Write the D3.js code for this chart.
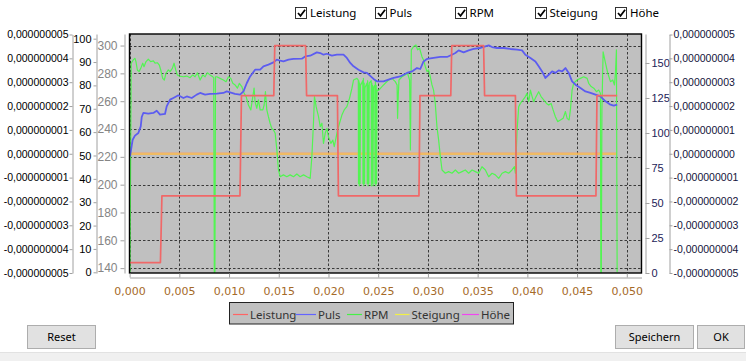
<!DOCTYPE html>
<html><head><meta charset="utf-8">
<script src="https://cdn.jsdelivr.net/npm/d3@7"></script>
<style>
html,body{margin:0;padding:0;background:#fff;overflow:hidden;}
svg{display:block;}
</style></head><body>
<svg id="c" width="746" height="361"></svg>
<script>
// ---------- data ----------
const seriesNames = ["Leistung", "Puls", "RPM", "Steigung", "Höhe"];
const xTicks = [0, 0.005, 0.01, 0.015, 0.02, 0.025, 0.03, 0.035, 0.04, 0.045, 0.05];
const leistungTicks = [140, 160, 180, 200, 220, 240, 260, 280, 300];
const rpmTicks = [0, 10, 20, 30, 40, 50, 60, 70, 80, 90, 100];
const pulsTicks = [0, 25, 50, 75, 100, 125, 150];
const smallTicks = [-5e-9, -4e-9, -3e-9, -2e-9, -1e-9, 0, 1e-9, 2e-9, 3e-9, 4e-9, 5e-9];

const leistungData = [
  [0, 144], [3.1e-3, 144], [3.25e-3, 192], [11.1e-3, 192], [11.25e-3, 264],
  [14.5e-3, 264], [14.6e-3, 300], [17.7e-3, 300], [17.8e-3, 264], [20.9e-3, 264],
  [21.0e-3, 192], [29.1e-3, 192], [29.2e-3, 264], [32.3e-3, 264], [32.4e-3, 300],
  [35.6e-3, 300], [35.7e-3, 264], [38.8e-3, 264], [38.9e-3, 192], [46.9e-3, 192],
  [47.0e-3, 264], [49.03e-3, 264]
];

const pulsData = [
  [0.04e-3, 83.3], [0.31e-3, 95.2], [0.54e-3, 98.1], [0.88e-3, 100], [1.12e-3, 104.7],
  [1.22e-3, 111.4], [1.38e-3, 114.3], [1.88e-3, 113.8], [2.39e-3, 114.3], [2.73e-3, 115.9],
  [3.06e-3, 113.1], [3.56e-3, 113.6], [3.73e-3, 119], [4.07e-3, 123.8], [4.40e-3, 125],
  [4.90e-3, 126.9], [5.41e-3, 125], [5.75e-3, 126.1], [6.25e-3, 125], [6.75e-3, 127.4],
  [7.09e-3, 128.6], [7.59e-3, 127.4], [8.09e-3, 127.9], [8.77e-3, 128.1], [9.43e-3, 128.6],
  [9.77e-3, 129.7], [10.1e-3, 129], [10.6e-3, 127.9], [11.11e-3, 127.4], [11.45e-3, 129.7],
  [11.79e-3, 135.7], [12.12e-3, 140.4], [12.62e-3, 145.2], [13.13e-3, 145.2], [13.46e-3, 147.6],
  [13.96e-3, 148.8], [14.47e-3, 150.4], [14.81e-3, 152.4], [15.14e-3, 151.6], [15.47e-3, 151.1],
  [15.98e-3, 152.4], [16.48e-3, 152.9], [17.32e-3, 153.1], [17.66e-3, 154.7], [18.16e-3, 155.2],
  [18.83e-3, 157.6], [19.17e-3, 157.1], [19.5e-3, 155.9], [19.84e-3, 156.6], [20.34e-3, 155.2],
  [20.85e-3, 155.9], [21.51e-3, 155.9], [21.85e-3, 153.6], [22.19e-3, 150], [22.52e-3, 147.6],
  [23.02e-3, 145.2], [23.53e-3, 143.3], [23.87e-3, 142.9], [24.53e-3, 138.6], [24.87e-3, 136.9],
  [25.54e-3, 136.9], [26.04e-3, 138.1], [26.55e-3, 139.3], [27.22e-3, 140.4], [27.89e-3, 142.9],
  [28.4e-3, 144], [28.9e-3, 146.4], [29.23e-3, 145.7], [29.56e-3, 151.1], [29.91e-3, 152.9],
  [30.57e-3, 153.6], [31.25e-3, 154.3], [31.92e-3, 154.3], [32.42e-3, 155.9], [32.76e-3, 157.1],
  [33.09e-3, 159], [33.59e-3, 157.6], [34.1e-3, 159], [34.6e-3, 160], [35.27e-3, 160.7],
  [35.78e-3, 161.9], [36.11e-3, 162.6], [36.45e-3, 161.4], [36.95e-3, 160.7], [37.62e-3, 160.7],
  [38.29e-3, 160], [38.97e-3, 159.5], [39.47e-3, 159], [39.8e-3, 155.9], [40.31e-3, 153.6],
  [40.81e-3, 151.1], [41.14e-3, 147.6], [41.48e-3, 144], [41.82e-3, 139.3], [42.15e-3, 141.6],
  [42.49e-3, 144], [42.82e-3, 142.9], [43.15e-3, 144.7], [43.5e-3, 144], [43.83e-3, 146.4],
  [44.16e-3, 142.9], [44.5e-3, 136.9], [44.84e-3, 134.5], [45.34e-3, 132.1], [45.84e-3, 129.7],
  [46.35e-3, 128.6], [46.85e-3, 127.4], [47.35e-3, 126.1], [47.86e-3, 122.6], [48.36e-3, 120.2],
  [48.69e-3, 119.5], [49.03e-3, 120.2]
];

const rpmData = [
  [0.04e-3, 0], [0.16e-3, 89.5], [0.37e-3, 90.9], [0.54e-3, 91.6], [0.64e-3, 90.2], [0.78e-3, 86.6],
  [0.95e-3, 85.9], [1.12e-3, 87.3], [1.32e-3, 89.5], [1.45e-3, 88], [1.65e-3, 90.2], [1.88e-3, 91.2],
  [2.12e-3, 90.2], [2.39e-3, 90.5], [2.56e-3, 89.5], [2.79e-3, 89.7], [2.99e-3, 88.7], [3.13e-3, 86.6],
  [3.33e-3, 83], [3.49e-3, 82.3], [3.66e-3, 85.2], [3.9e-3, 86.6], [4.07e-3, 85.9], [4.3e-3, 87.3],
  [4.47e-3, 89.5], [4.64e-3, 86.6], [4.8e-3, 84.5], [5.0e-3, 84], [5.41e-3, 83.7], [5.75e-3, 84],
  [6.08e-3, 83.3], [6.35e-3, 84.5], [6.58e-3, 83.7], [6.82e-3, 85.4], [7.09e-3, 82.3], [7.36e-3, 84.5],
  [7.59e-3, 83.7], [7.82e-3, 85.4], [8.09e-3, 84.5], [8.37e-3, 83.7], [8.46e-3, 83.2], [8.52e-3, 0],
  [8.58e-3, 0], [8.64e-3, 83.7], [8.77e-3, 83.7], [9.1e-3, 83], [9.43e-3, 82.3], [9.7e-3, 81.6],
  [9.94e-3, 83.7], [10.18e-3, 83], [10.38e-3, 80.9], [10.61e-3, 80.2], [10.84e-3, 78.8], [11.04e-3, 80.9],
  [11.28e-3, 79.5], [11.52e-3, 76.6], [11.72e-3, 75.2], [11.95e-3, 71.6], [12.19e-3, 69.5], [12.39e-3, 75.2],
  [12.52e-3, 78.8], [12.62e-3, 73], [12.79e-3, 70.2], [12.96e-3, 73.8], [13.13e-3, 69.5], [13.4e-3, 69.5],
  [13.53e-3, 71.6], [13.66e-3, 77.3], [13.8e-3, 69.5], [13.96e-3, 66.6], [14.13e-3, 63.8], [14.3e-3, 61.6],
  [14.47e-3, 60.9], [14.64e-3, 59.5], [14.81e-3, 52.4], [14.97e-3, 43.8], [15.14e-3, 40.9], [15.47e-3, 41.7],
  [15.81e-3, 40.9], [16.15e-3, 41.7], [16.48e-3, 40.9], [16.82e-3, 42.1], [17.15e-3, 40.9], [17.49e-3, 41.7],
  [17.83e-3, 40.9], [18.16e-3, 40.2], [18.33e-3, 49.5], [18.49e-3, 63.8], [18.59e-3, 75.2], [18.76e-3, 70.9],
  [19.0e-3, 66.6], [19.17e-3, 62.3], [19.34e-3, 63.8], [19.5e-3, 55.2], [19.67e-3, 59.5], [19.84e-3, 61.6],
  [20.0e-3, 58], [20.24e-3, 55.2], [20.44e-3, 56.6], [20.58e-3, 53.8], [20.78e-3, 58], [20.91e-3, 60.9],
  [21.11e-3, 63.8], [21.35e-3, 67.3], [21.58e-3, 69.5], [21.85e-3, 70.9], [22.12e-3, 74.5], [22.36e-3, 78.8],
  [22.52e-3, 82.3], [22.86e-3, 83], [23.0e-3, 82.3],
  [23.02e-3, 38], [23.06e-3, 82], [23.1e-3, 37], [23.14e-3, 81], [23.18e-3, 38], [23.22e-3, 80],
  [23.45e-3, 82],
  [23.47e-3, 38], [23.51e-3, 83], [23.55e-3, 37], [23.59e-3, 81], [23.63e-3, 38], [23.67e-3, 79],
  [23.88e-3, 81],
  [23.9e-3, 38], [23.94e-3, 82], [23.98e-3, 37], [24.02e-3, 80], [24.06e-3, 38], [24.1e-3, 81],
  [24.3e-3, 82],
  [24.32e-3, 37], [24.36e-3, 81], [24.4e-3, 38], [24.44e-3, 80], [24.48e-3, 37], [24.52e-3, 79],
  [24.66e-3, 80],
  [24.68e-3, 38], [24.72e-3, 82], [24.76e-3, 37], [24.8e-3, 80], [24.84e-3, 38], [24.88e-3, 78],
  [25.04e-3, 77.9], [25.38e-3, 79.5], [25.71e-3, 80.9], [26.04e-3, 82.3], [26.38e-3, 83], [26.72e-3, 81.6],
  [26.9e-3, 80.2], [26.95e-3, 65.9], [27.02e-3, 75.9], [27.09e-3, 82.3], [27.39e-3, 83.7], [27.72e-3, 84.5],
  [27.95e-3, 85.2], [28.16e-3, 82.3], [28.24e-3, 52.4], [28.33e-3, 95.2], [28.56e-3, 96.6], [28.8e-3, 97.3],
  [28.96e-3, 95.2], [29.16e-3, 95.9], [29.4e-3, 92.3], [29.56e-3, 90.9], [29.74e-3, 88], [29.91e-3, 85.9],
  [30.07e-3, 86.6], [30.24e-3, 83.7], [30.41e-3, 80.2], [30.57e-3, 78], [30.74e-3, 72.3], [30.91e-3, 62.3],
  [31.08e-3, 56.6], [31.25e-3, 49.5], [31.42e-3, 43.8], [31.75e-3, 42.4], [32.08e-3, 43.1], [32.42e-3, 42.4],
  [32.76e-3, 43.8], [33.09e-3, 42.4], [33.43e-3, 43.1], [33.76e-3, 43.8], [34.1e-3, 42.4], [34.44e-3, 43.8],
  [34.77e-3, 43.1], [35.1e-3, 42.4], [35.44e-3, 45.2], [35.78e-3, 43.8], [36.11e-3, 40.9], [36.45e-3, 42.4],
  [36.78e-3, 41.7], [37.12e-3, 40.2], [37.46e-3, 42.4], [37.79e-3, 43.1], [38.12e-3, 42.4], [38.46e-3, 43.8],
  [38.7e-3, 45.2], [38.8e-3, 42.4], [38.97e-3, 60.9], [39.13e-3, 70.9], [39.3e-3, 72.3], [39.57e-3, 73.8],
  [39.8e-3, 75.2], [39.97e-3, 76.6], [40.14e-3, 73], [40.31e-3, 78], [40.48e-3, 75.2], [40.64e-3, 73],
  [40.88e-3, 75.2], [41.14e-3, 77.3], [41.38e-3, 75.2], [41.64e-3, 73.8], [41.92e-3, 72.3], [42.15e-3, 71.6],
  [42.39e-3, 72.3], [42.59e-3, 69.5], [42.82e-3, 66.6], [43.05e-3, 64.5], [43.33e-3, 65.2], [43.6e-3, 65.9],
  [43.83e-3, 68.8], [44.0e-3, 65.9], [44.2e-3, 65.2], [44.33e-3, 69.5], [44.5e-3, 78], [44.66e-3, 80.9],
  [45.0e-3, 82.3], [45.34e-3, 83], [45.67e-3, 83.7], [46.01e-3, 83], [46.17e-3, 80.9], [46.42e-3, 79.5],
  [46.68e-3, 78.8], [46.95e-3, 77.3], [47.18e-3, 78], [47.35e-3, 76.6], [47.39e-3, 0], [47.44e-3, 0],
  [47.5e-3, 69.5], [47.62e-3, 94.4], [47.86e-3, 89.5], [48.09e-3, 85.2], [48.36e-3, 81.6], [48.59e-3, 82.3],
  [48.76e-3, 80.2], [48.86e-3, 85.2], [48.96e-3, 95.2], [49.03e-3, 0]
];

const steigungData = [[0.04e-3, 0], [49.0e-3, 0]];
const hoeheData = [[0.04e-3, 0], [49.0e-3, 0]];

// ---------- layout ----------
const svg = d3.select("#c");
const L = 129.5, R = 641.5, T = 34, B = 273;

const x = d3.scaleLinear().domain([0, 0.05148]).range([L + 0.1, R]);
const yLeist = d3.scaleLinear().domain([136.5, 308.3]).range([B, T]);
const yRpm = d3.scaleLinear().domain([-0.3, 102]).range([B, T]);
const yPuls = d3.scaleLinear().domain([0, 170.7]).range([B, T]);
const ySmall = d3.scaleLinear().domain([-5e-9, 5e-9]).range([B, T + 0.5]);

const loc = d3.formatLocale({decimal: ",", thousands: ".", grouping: [3], currency: ["", "€"], minus: "-"});
const fSmall = loc.format(".9f");
const fX = loc.format(".3f");
const fInt = loc.format("d");

// background
svg.append("rect").attr("width", 746).attr("height", 361).attr("fill", "#ffffff");
svg.append("rect").attr("x", 0).attr("y", 352).attr("width", 746).attr("height", 9).attr("fill", "#f0f0f0");
svg.append("line").attr("x1", 0).attr("x2", 746).attr("y1", 352.5).attr("y2", 352.5).attr("stroke", "#e2e2e2");

// plot area
svg.append("rect").attr("x", L).attr("y", T).attr("width", R - L).attr("height", B - T).attr("fill", "#c0c0c0");

// grid
const grid = svg.append("g").attr("stroke", "#3a3a3a").attr("stroke-width", 1).attr("stroke-dasharray", "2.5,2").attr("fill", "none");
grid.selectAll("line.h").data(leistungTicks).join("line").attr("class", "h")
  .attr("x1", L).attr("x2", R).attr("y1", d => Math.round(yLeist(d)) + 0.5).attr("y2", d => Math.round(yLeist(d)) + 0.5);
grid.selectAll("line.v").data(xTicks).join("line").attr("class", "v")
  .attr("y1", T).attr("y2", B).attr("x1", d => Math.round(x(d)) + 0.5).attr("x2", d => Math.round(x(d)) + 0.5);

// series (ZedGraph draws first curve last -> on top)
const plotG = svg.append("g");
svg.append("clipPath").attr("id", "pc").append("rect").attr("x", L).attr("y", T).attr("width", R - L).attr("height", B - T);
plotG.attr("clip-path", "url(#pc)");

const seriesDefs = [
  {name: "Höhe", data: hoeheData, y: ySmall, color: "rgba(255,0,255,0.45)", w: 2.6},
  {name: "Steigung", data: steigungData, y: ySmall, color: "rgba(255,255,0,0.55)", w: 2.6},
  {name: "RPM", data: rpmData, y: yRpm, color: "#52f552", w: 1.2},
  {name: "Puls", data: pulsData, y: yPuls, color: "#5c5cf0", w: 1.8},
  {name: "Leistung", data: leistungData, y: yLeist, color: "#f06868", w: 1.7}
];
seriesDefs.forEach(s => {
  const line = d3.line().x(d => x(d[0])).y(d => s.y(d[1]));
  plotG.append("path").datum(s.data).attr("d", line).attr("fill", "none")
    .attr("stroke", s.color).attr("stroke-width", s.w).attr("stroke-linejoin", "round");
});

// plot border
svg.append("rect").attr("x", L).attr("y", T).attr("width", R - L).attr("height", B - T)
  .attr("fill", "none").attr("stroke", "#000").attr("stroke-width", 1.4);

// axes helper
function styleAxis(g, textColor, fontSize, family) {
  g.select(".domain").attr("stroke", "#a0a0a0");
  g.selectAll(".tick line").attr("stroke", "#a0a0a0");
  g.selectAll(".tick text").attr("fill", textColor).style("font-family", family).style("font-size", fontSize + "px");
}
const yFont = "'Liberation Sans', Arial, sans-serif";

// leftmost small axis
svg.append("g").attr("transform", "translate(72.5,0)")
  .call(d3.axisLeft(ySmall).tickValues(smallTicks).tickFormat(fSmall).tickSizeInner(3).tickSizeOuter(0).tickPadding(1))
  .call(g => styleAxis(g, "#000", 10.5, yFont));
// RPM axis 0-100
svg.append("g").attr("transform", "translate(96.5,0)")
  .call(d3.axisLeft(yRpm).tickValues(rpmTicks).tickFormat(fInt).tickSizeInner(3).tickSizeOuter(0).tickPadding(2))
  .call(g => styleAxis(g, "#000", 11, yFont));
// Leistung axis 140-300
svg.append("g").attr("transform", "translate(124.5,0)")
  .call(d3.axisLeft(yLeist).tickValues(leistungTicks).tickFormat(fInt).tickSizeInner(4).tickSizeOuter(0).tickPadding(3))
  .call(g => styleAxis(g, "#858585", 12, yFont));
// Puls axis right
svg.append("g").attr("transform", "translate(645.5,0)")
  .call(d3.axisRight(yPuls).tickValues(pulsTicks).tickFormat(fInt).tickSizeInner(4).tickSizeOuter(0).tickPadding(2))
  .call(g => styleAxis(g, "#1c1c58", 11, yFont));
// rightmost small axis
svg.append("g").attr("transform", "translate(669.5,0)")
  .call(d3.axisRight(ySmall).tickValues(smallTicks).tickFormat(fSmall).tickSizeInner(3).tickSizeOuter(0).tickPadding(1))
  .call(g => styleAxis(g, "#14143a", 10.5, yFont));
// x axis
svg.append("g").attr("transform", "translate(0,277.5)")
  .call(d3.axisBottom(x).tickValues(xTicks).tickFormat(fX).tickSizeInner(-4).tickSizeOuter(0).tickPadding(10))
  .call(g => styleAxis(g, "#a56a28", 11, "'DejaVu Sans', Verdana, sans-serif"));

// ---------- legend ----------
const uiFont = "'Noto Sans', 'Open Sans', sans-serif";
const legColors = {"Leistung": "#ff6464", "Puls": "#6464ff", "RPM": "#46f046", "Steigung": "#f0f046", "Höhe": "#f046f0"};
const legLineX = [233, 296, 347, 395, 462];
const legTextX = [250, 318, 364, 411.5, 481];
const leg = svg.append("g");
leg.append("rect").attr("x", 229.5).attr("y", 302.5).attr("width", 284).attr("height", 21.5)
  .attr("fill", "#c0c0c0").attr("stroke", "#222").attr("stroke-width", 1);
seriesNames.forEach((n, i) => {
  leg.append("line").attr("x1", legLineX[i]).attr("x2", legTextX[i] - 2).attr("y1", 314.5).attr("y2", 314.5)
    .attr("stroke", legColors[n]).attr("stroke-width", 1.2);
  leg.append("text").attr("x", legTextX[i]).attr("y", 318.5).text(n)
    .attr("fill", "#333").style("font-family", uiFont).style("font-size", "11.5px");
});

// ---------- checkboxes ----------
const cbX = [295, 375, 455, 535, 615];
const cbTextX = [310, 389.5, 469.5, 549.5, 630];
seriesNames.forEach((n, i) => {
  const g = svg.append("g");
  g.append("rect").attr("x", cbX[i] + 0.5).attr("y", 7.5).attr("width", 11).attr("height", 11)
    .attr("fill", "#fff").attr("stroke", "#333").attr("stroke-width", 1);
  g.append("path").attr("d", `M${cbX[i] + 3},${13} l2.5,2.8 l4.6,-6`).attr("fill", "none")
    .attr("stroke", "#000").attr("stroke-width", 1.7);
  g.append("text").attr("x", cbTextX[i]).attr("y", 17).text(n)
    .attr("fill", "#000").style("font-family", uiFont).style("font-size", "11.5px");
});

// ---------- buttons ----------
const buttons = [
  {label: "Reset", x: 27.5, w: 68},
  {label: "Speichern", x: 615.5, w: 78},
  {label: "OK", x: 697.5, w: 47}
];
buttons.forEach(b => {
  svg.append("rect").attr("x", b.x).attr("y", 325.5).attr("width", b.w).attr("height", 23)
    .attr("fill", "#e1e1e1").attr("stroke", "#adadad");
  svg.append("text").attr("x", b.x + b.w / 2).attr("y", 341).attr("text-anchor", "middle").text(b.label)
    .attr("fill", "#000").style("font-family", uiFont).style("font-size", "11px");
});
</script>
</body></html>
